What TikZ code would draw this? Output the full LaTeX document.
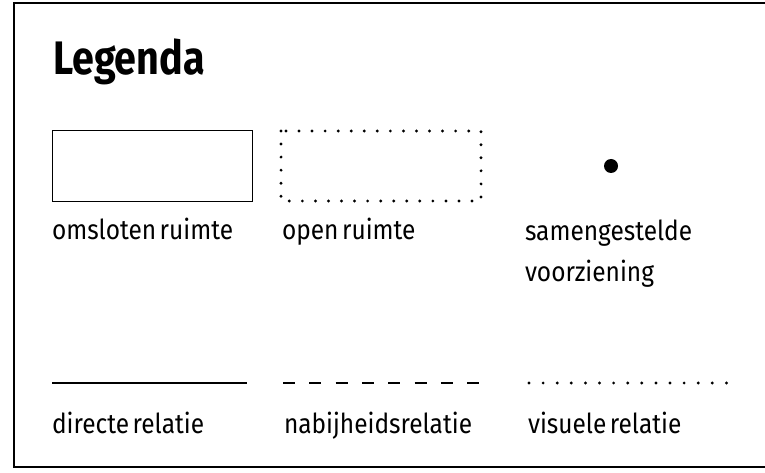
\documentclass[tikz,border=0pt]{standalone}
\usepackage{fontspec}
\setmainfont[FakeStretch=0.89,WordSpace=0.55]{Fira Sans}
\newfontfamily\titlefont[FakeStretch=0.84]{Fira Sans}
\usetikzlibrary{positioning}

\begin{document}
\begin{tikzpicture}[x=1pt,y=-1pt,
      every node/.style={inner sep=0pt,outer sep=0pt},
      lbl/.style={anchor=base west,align=left,font=\fontsize{27.5}{41}\selectfont},
      sample/.style={minimum width=200pt,minimum height=70pt,anchor=north west},
      dotline/.style={line width=3.2pt,line cap=round,dash pattern=on 0pt off 13.05pt}]
      \useasboundingbox(0,0)rectangle(765,473);
      \clip(0,0)rectangle(765,473);
      \draw[line width=2pt](14,3)rectangle(790,467);
      \node[anchor=base west,font=\fontsize{47}{47}\titlefont\bfseries](title)at(53,75){Legenda};
      % ruimtes
      \node[sample,draw,line width=1pt](encl)at(52,131){};
      \node[sample](open)at(281,131){};
      \draw[dotline](open.north west)rectangle(open.south east);
      \node[circle,fill,minimum size=14pt](comp)at(611,166){};
      \node[lbl](enclText)at(52,239){omsloten ruimte};
      \node[lbl](openText)at(282,239){open ruimte};
      \node[lbl](compText)at(525,281){samengestelde\\voorziening};
      % relaties
      \coordinate(directA)at(52,383);\coordinate(directB)at(247,383);
      \coordinate(nearA)at(283,383);\coordinate(nearB)at(483,383);
      \coordinate(visA)at(529,383);\coordinate(visB)at(727,383);
      \draw[line width=2.6pt](directA)--(directB);
      \draw[line width=2pt,dash pattern=on 12pt off 14.3pt](nearA)--(nearB);
      \draw[line width=3.2pt,line cap=round,dash pattern=on 0pt off 14.1pt](visA)--(visB);
      \node[lbl](directText)at(52,433){directe relatie};
      \node[lbl](nearText)at(284,433){nabijheidsrelatie};
      \node[lbl](visText)at(528,433){visuele relatie};
   \end{tikzpicture}
\end{document}
